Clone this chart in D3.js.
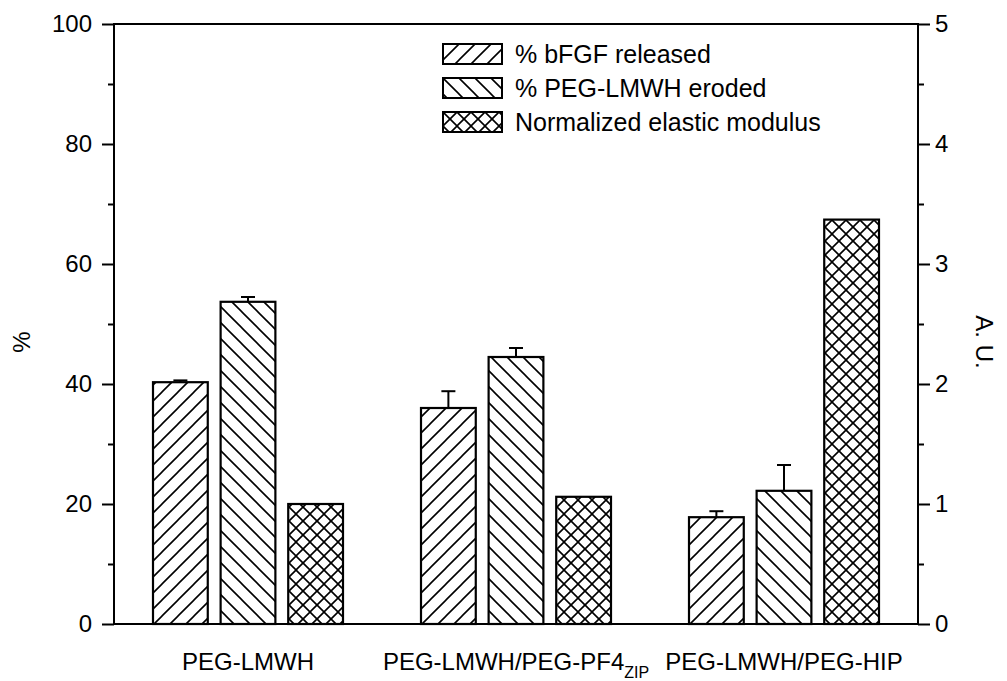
<!DOCTYPE html>
<html><head><meta charset="utf-8">
<script src="https://cdn.jsdelivr.net/npm/d3@7"></script>
<style>
body{margin:0;background:#fff;}
text{font-family:"Liberation Sans",Arial,Helvetica,sans-serif;fill:#000;}
</style></head>
<body><svg id="chart" width="1007" height="681"></svg>
<script>
// ---- data ----
const categories = ["PEG-LMWH", "PEG-LMWH/PEG-PF4", "PEG-LMWH/PEG-HIP"];
const categorySubscripts = ["", "ZIP", ""];
const seriesNames = ["% bFGF released", "% PEG-LMWH eroded", "Normalized elastic modulus"];
const bfgfReleased = [40.3, 36.0, 17.8];
const bfgfErr = [0.3, 2.8, 1.0];
const pegEroded = [53.7, 44.5, 22.2];
const pegErodedErr = [0.8, 1.5, 4.3];
const elasticModulus = [1.0, 1.06, 3.37]; // A.U. (right axis)
const leftTicks = [0, 20, 40, 60, 80, 100];
const rightTicks = [0, 1, 2, 3, 4, 5];

// ---- layout ----
const svg = d3.select("#chart");
const m = {left:114, right:1007-918, top:24, bottom:681-624};
const W = 1007 - m.left - m.right, H = 681 - m.top - m.bottom;
const g = svg.append("g").attr("transform",`translate(${m.left},${m.top})`);

const x0 = d3.scaleBand().domain(categories).range([0, W]);
const x1 = d3.scaleBand().domain([0,1,2]).range([x0.bandwidth()/2 - 95, x0.bandwidth()/2 + 95]).paddingInner(0.19);
const yL = d3.scaleLinear().domain([0,100]).range([H,0]);
const yR = d3.scaleLinear().domain([0,5]).range([H,0]);

// ---- patterns ----
const defs = svg.append("defs");
function hatch(id, size, paths, sw){
  const p = defs.append("pattern").attr("id",id).attr("patternUnits","userSpaceOnUse")
    .attr("width",size).attr("height",size);
  p.append("rect").attr("width",size).attr("height",size).attr("fill","#fff");
  paths.forEach(d=>p.append("path").attr("d",d).attr("stroke","#000").attr("stroke-width",sw).attr("fill","none"));
}
const s1 = 16;
hatch("fwd", s1, [`M${-s1/4},${s1/4} L${s1/4},${-s1/4} M0,${s1} L${s1},0 M${s1*3/4},${s1*5/4} L${s1*5/4},${s1*3/4}`], 1.6);
hatch("bwd", s1, [`M${-s1/4},${s1*3/4} L${s1/4},${s1*5/4} M0,0 L${s1},${s1} M${s1*3/4},${-s1/4} L${s1*5/4},${s1/4}`], 1.6);
const s2 = 14;
hatch("cross", s2, [`M${-s2/4},${s2/4} L${s2/4},${-s2/4} M0,${s2} L${s2},0 M${s2*3/4},${s2*5/4} L${s2*5/4},${s2*3/4}`,
                    `M${-s2/4},${s2*3/4} L${s2/4},${s2*5/4} M0,0 L${s2},${s2} M${s2*3/4},${-s2/4} L${s2*5/4},${s2/4}`], 1.6);
const fills = ["url(#fwd)","url(#bwd)","url(#cross)"];

// ---- bars ----
const rows = categories.map((c,i)=>[
  {s:0, v:yL(bfgfReleased[i]), e:yL(bfgfReleased[i]+bfgfErr[i])},
  {s:1, v:yL(pegEroded[i]), e:yL(pegEroded[i]+pegErodedErr[i])},
  {s:2, v:yR(elasticModulus[i]), e:null}
].map(d=>Object.assign(d,{c})));

const grp = g.selectAll("g.grp").data(rows).join("g").attr("class","grp")
  .attr("transform",d=>`translate(${x0(d[0].c)},0)`);
grp.selectAll("g.err").data(d=>d.filter(e=>e.e!==null)).join("g").attr("class","err").each(function(d){
  const cx = x1(d.s)+x1.bandwidth()/2;
  const s = d3.select(this);
  s.append("line").attr("x1",cx).attr("x2",cx).attr("y1",d.v).attr("y2",d.e).attr("stroke","#000").attr("stroke-width",2);
  s.append("line").attr("x1",cx-7).attr("x2",cx+7).attr("y1",d.e).attr("y2",d.e).attr("stroke","#000").attr("stroke-width",2);
});
grp.selectAll("rect").data(d=>d).join("rect")
  .attr("x",d=>x1(d.s)).attr("width",x1.bandwidth())
  .attr("y",d=>d.v).attr("height",d=>H-d.v)
  .attr("fill",d=>fills[d.s]).attr("stroke","#000").attr("stroke-width",2.2);

// ---- axes / frame ----
const axL = g.append("g").call(d3.axisLeft(yL).tickValues(leftTicks).tickSize(12).tickPadding(10).tickFormat(d3.format("d")));
const axLm = g.append("g").call(d3.axisLeft(yL).tickValues(d3.range(10,100,20)).tickSize(6).tickFormat(""));
const axR = g.append("g").attr("transform",`translate(${W},0)`).call(d3.axisRight(yR).tickValues(rightTicks).tickSize(12).tickPadding(5).tickFormat(d3.format("d")));
const axRm = g.append("g").attr("transform",`translate(${W},0)`).call(d3.axisRight(yR).tickValues(d3.range(0.5,5,1)).tickSize(6).tickFormat(""));
[axL,axLm,axR,axRm].forEach(a=>{
  a.selectAll("path.domain").remove();
  a.selectAll("line").attr("stroke","#000").attr("stroke-width",2);
  a.selectAll("text").style("font-size","24px").attr("font-family","Liberation Sans, Arial, sans-serif");
});
g.append("rect").attr("x",0).attr("y",0).attr("width",W).attr("height",H)
  .attr("fill","none").attr("stroke","#000").attr("stroke-width",2);

// axis titles
g.append("text").attr("transform",`translate(${-84},${yL(47)}) rotate(-90)`)
  .attr("text-anchor","middle").style("font-size","24px").text("%");
g.append("text").attr("transform",`translate(${W+58},${yL(47)}) rotate(90)`)
  .attr("text-anchor","middle").style("font-size","24px").text("A. U.");

// category labels
const cl = g.selectAll("text.cat").data(categories).join("text").attr("class","cat")
  .attr("x",d=>x0(d)+x0.bandwidth()/2).attr("y",H+46)
  .attr("text-anchor","middle").style("font-size","24px");
cl.append("tspan").text(d=>d);
cl.append("tspan").attr("dy",8).style("font-size","16px").text((d,i)=>categorySubscripts[i]);

// ---- legend ----
const lg = svg.append("g").attr("transform","translate(443,44)");
const li = lg.selectAll("g").data(seriesNames).join("g").attr("transform",(d,i)=>`translate(0,${i*34})`);
li.append("rect").attr("width",59).attr("height",20).attr("fill",(d,i)=>fills[i]).attr("stroke","#000").attr("stroke-width",2);
li.append("text").attr("x",72).attr("y",10).attr("dy","0.35em").style("font-size","25px").text(d=>d);
</script></body></html>
